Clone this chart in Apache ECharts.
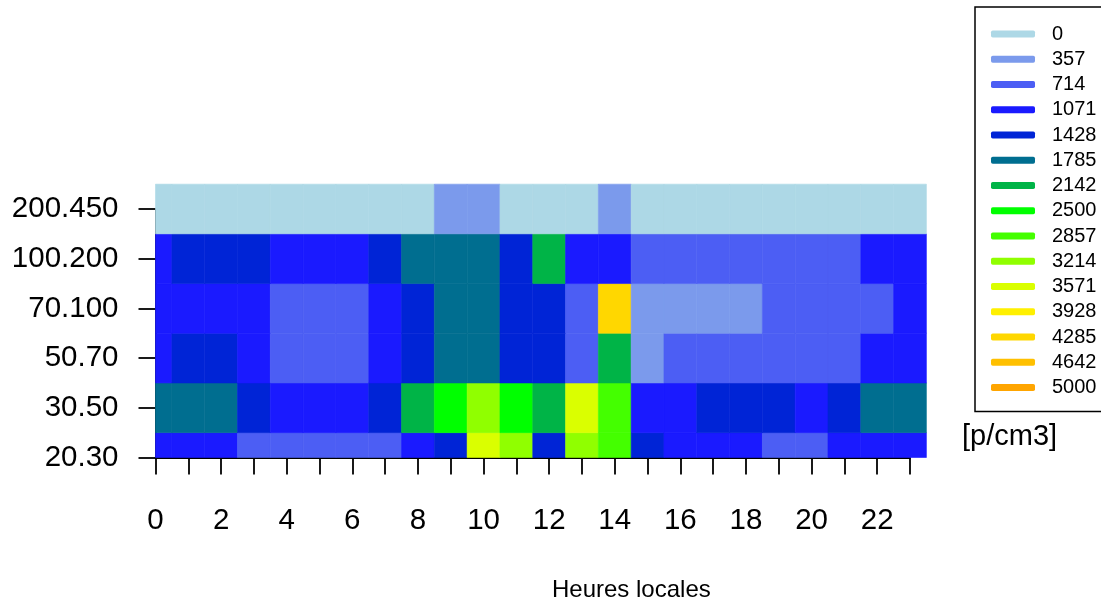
<!DOCTYPE html>
<html>
<head>
<meta charset="utf-8">
<script src="https://cdn.jsdelivr.net/npm/echarts@6/dist/echarts.min.js"></script>
<style>html,body{margin:0;padding:0;background:#fff;}#c{width:1101px;height:605px;}</style>
</head>
<body>
<div id="c"></div>
<script>
// Hours (x) and size-class bands (y, bottom to top)
const hours = [0,1,2,3,4,5,6,7,8,9,10,11,12,13,14,15,16,17,18,19,20,21,22,23];
const yLabels = ['20.30','30.50','50.70','70.100','100.200','200.450'];
const xTickLabels = ['0','2','4','6','8','10','12','14','16','18','20','22'];

// Concentration values [p/cm3] per band, hours 0..23
const band_20_30   = [1070,1070,1070,710,710,710,710,710,1070,1430,3570,3210,1430,3210,2860,1430,1070,1070,1070,710,710,1070,1070,1070];
const band_30_50   = [1790,1790,1790,1430,1070,1070,1070,1430,2140,2500,3210,2500,2140,3570,2860,1070,1070,1430,1430,1430,1070,1430,1790,1790];
const band_50_70   = [1070,1430,1430,1070,710,710,710,1070,1430,1790,1790,1430,1430,710,2140,360,710,710,710,710,710,710,1070,1070];
const band_70_100  = [1070,1070,1070,1070,710,710,710,1070,1430,1790,1790,1430,1430,710,4290,360,360,360,360,710,710,710,710,1070];
const band_100_200 = [1070,1430,1430,1430,1070,1070,1070,1430,1790,1790,1790,1430,2140,1070,1070,710,710,710,710,710,710,710,1070,1070];
const band_200_450 = [100,100,100,100,100,100,100,100,100,360,360,100,100,100,360,100,100,100,100,100,100,100,100,100];

// Legend levels and colours
const levels = ['0','357','714','1071','1428','1785','2142','2500','2857','3214','3571','3928','4285','4642','5000'];
const levelColors = ['#ADD8E6','#7B9AEC','#4C5EF4','#1A1AFF','#0024D6','#006E90','#00B447','#00FF00','#44FF00','#90FF00','#DAFF00','#FFF000','#FFD700','#FFC000','#FFA500'];

const bands = [band_20_30, band_30_50, band_50_70, band_70_100, band_100_200, band_200_450];
const cells = [];
bands.forEach((row, yi) => row.forEach((v, xi) => cells.push([hours[xi], yi, v])));

const step = 5000 / 14;
function colorFor(v) {
  let k = Math.round(v / step);
  k = Math.max(0, Math.min(levelColors.length - 1, k));
  return levelColors[k];
}

const FONT = "'Liberation Sans', Arial, Helvetica, sans-serif";

const legendSeries = levels.map((name, i) => ({
  name: name, type: 'line', data: [], color: levelColors[i],
  itemStyle: { color: levelColors[i] }, lineStyle: { color: levelColors[i] }
}));

const chart = echarts.init(document.getElementById('c'), null, { renderer: 'canvas' });
chart.setOption({
  animation: false,
  backgroundColor: '#ffffff',
  grid: { left: 155.5, right: 191, top: 209, bottom: 147.5, containLabel: false },
  xAxis: {
    type: 'value', min: 0, max: 23, interval: 1,
    axisLine: { show: true, lineStyle: { color: '#000', width: 1.8 } },
    axisTick: { show: true, length: 17, lineStyle: { color: '#000', width: 1.8 } },
    splitLine: { show: false },
    axisLabel: {
      color: '#000', fontSize: 29.5, fontFamily: FONT, margin: 48,
      formatter: v => (xTickLabels.indexOf(String(v)) >= 0 ? String(v) : '')
    }
  },
  yAxis: {
    type: 'value', min: 0, max: 5, interval: 1,
    axisLine: { show: true, lineStyle: { color: '#000', width: 1.8 } },
    axisTick: { show: true, length: 17, lineStyle: { color: '#000', width: 1.8 } },
    splitLine: { show: false },
    axisLabel: {
      color: '#000', fontSize: 29.5, fontFamily: FONT, margin: 37,
      formatter: v => (yLabels[v] !== undefined ? yLabels[v] : '')
    }
  },
  title: [
    { text: 'Heures locales', left: 552, top: 578,
      textStyle: { fontSize: 24, fontWeight: 'normal', color: '#000', fontFamily: FONT }, padding: 0 },
    { text: '[p/cm3]', left: 962, top: 422,
      textStyle: { fontSize: 29, fontWeight: 'normal', color: '#000', fontFamily: FONT }, padding: 0 }
  ],
  legend: {
    orient: 'vertical', left: 975, top: 7,
    selectedMode: false,
    icon: 'roundRect', itemWidth: 44, itemHeight: 7, itemGap: 5.25,
    borderColor: '#000', borderWidth: 1.5, borderRadius: 0,
    padding: [17, 8, 14, 16],
    itemStyle: { borderWidth: 0 },
    textStyle: { fontSize: 20, color: '#000', fontFamily: FONT, padding: [5, 0, 0, 12] },
    data: levels
  },
  series: [{
    type: 'custom',
    clip: false,
    z: 1,
    data: cells,
    renderItem: function (params, api) {
      const x = api.value(0), y = api.value(1), v = api.value(2);
      const p0 = api.coord([Math.max(x - 0.5, 0), y + 0.5]);
      const p1 = api.coord([x + 0.5, Math.max(y - 0.5, 0)]);
      const c = colorFor(v);
      return {
        type: 'rect',
        shape: { x: p0[0], y: p0[1], width: p1[0] - p0[0], height: p1[1] - p0[1] },
        style: { fill: c, stroke: c, lineWidth: 0.6 }
      };
    }
  }].concat(legendSeries)
});
</script>
</body>
</html>
